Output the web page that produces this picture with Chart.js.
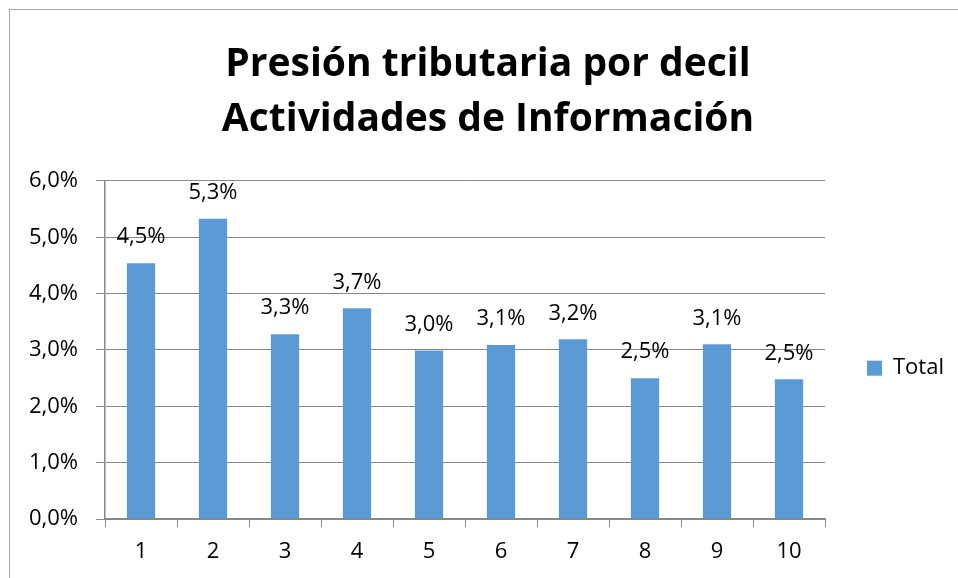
<!DOCTYPE html>
<html>
<head>
<meta charset="utf-8">
<script src="https://cdn.jsdelivr.net/npm/chart.js@4/dist/chart.umd.min.js"></script>
<style>
    html, body { margin: 0; padding: 0; background: #fff; overflow: hidden; }
    #wrap { position: relative; width: 958px; height: 578px; }
    #frame {
        position: absolute; left: 9px; top: 9px; width: 1000px; height: 700px;
        border-left: 1.5px solid #a6a6a6; border-top: 1.5px solid #a6a6a6;
        pointer-events: none;
    }
</style>
</head>
<body>
<div id="wrap">
    <canvas id="chart" width="958" height="578"></canvas>
    <div id="frame"></div>
</div>
<script>
// Datos
const deciles = ['1', '2', '3', '4', '5', '6', '7', '8', '9', '10'];
const presionTotal = [4.54, 5.33, 3.28, 3.74, 2.99, 3.09, 3.19, 2.50, 3.10, 2.48];
const titulo = ['Presión tributaria por decil', 'Actividades de Información'];
const serieNombre = 'Total';

const barColor = '#5B9BD5';
const gridColor = '#878787';
const fontFam = '"Open Sans"';

function pct(v) {
    return v.toFixed(1).replace('.', ',') + '%';
}

// Etiquetas de valor sobre cada barra
const valueLabels = {
    id: 'valueLabels',
    afterDatasetsDraw: function (chart) {
        const ctx = chart.ctx;
        const meta = chart.getDatasetMeta(0);
        ctx.save();
        ctx.font = '22px ' + fontFam;
        ctx.fillStyle = '#000';
        ctx.textAlign = 'center';
        ctx.textBaseline = 'middle';
        meta.data.forEach(function (bar, i) {
            ctx.fillText(pct(presionTotal[i]), bar.x, bar.y - 26);
        });
        ctx.restore();
    }
};

Chart.defaults.font.family = fontFam;
Chart.defaults.color = '#000';

// ancho de la leyenda para que el área del gráfico termine en x=825
const legendPad = 42, legendBox = 15, legendFont = 22;
const mctx = document.createElement('canvas').getContext('2d');
mctx.font = legendFont + 'px ' + fontFam;
const legendW = legendPad + 10 + legendBox + legendFont / 2 + mctx.measureText(serieNombre).width;
const padRight = Math.max(0, 958 - 825 - legendW);
const padLeft = padRight + 18;

new Chart(document.getElementById('chart'), {
    type: 'bar',
    data: {
        labels: deciles,
        datasets: [{
            label: serieNombre,
            data: presionTotal,
            backgroundColor: barColor,
            borderWidth: 0,
            barPercentage: 0.393,
            categoryPercentage: 1.0,
        }]
    },
    options: {
        responsive: false,
        animation: false,
        layout: { padding: { left: padLeft, right: padRight, top: 0, bottom: 0 } },
        plugins: {
            title: {
                display: true,
                text: titulo,
                font: { size: 39, weight: 'bold', lineHeight: 1.41 },
                color: '#000',
                padding: { top: 37, bottom: 34 }
            },
            legend: {
                position: 'right',
                fullSize: false,
                title: { display: true, text: ' ', font: { size: 12 }, padding: { top: 11, bottom: 11 } },
                labels: { boxWidth: legendBox, boxHeight: legendBox, padding: legendPad, font: { size: legendFont } }
            },
            tooltip: { enabled: false }
        },
        scales: {
            x: {
                grid: { drawOnChartArea: false, drawTicks: true, tickLength: 8, color: gridColor },
                border: { color: gridColor, width: 1.5 },
                ticks: { font: { size: 22 }, padding: 12 },
                afterFit: function (scale) { scale.height = 59; }
            },
            y: {
                min: 0,
                max: 6,
                grid: { color: gridColor, tickLength: 9 },
                border: { color: gridColor, width: 1.5 },
                ticks: {
                    stepSize: 1,
                    font: { size: 22 },
                    padding: 18,
                    callback: function (v) { return pct(v); }
                },
                afterFit: function (scale) { scale.width = 105 - padLeft; }
            }
        }
    },
    plugins: [valueLabels]
});
</script>
</body>
</html>
